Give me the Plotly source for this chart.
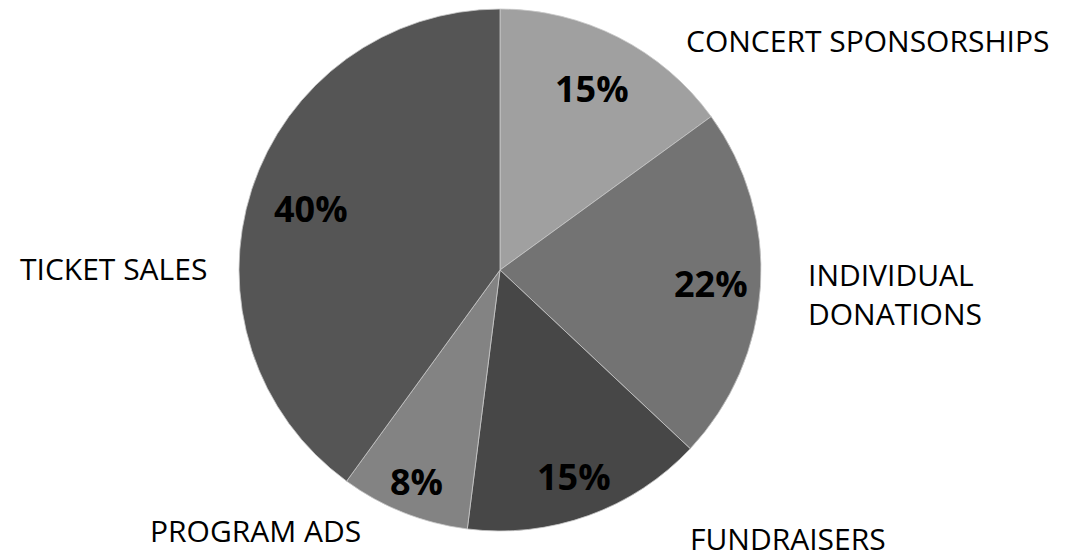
import math
import plotly.graph_objects as go

categories = ["CONCERT SPONSORSHIPS", "INDIVIDUAL DONATIONS", "FUNDRAISERS", "PROGRAM ADS", "TICKET SALES"]
values = [15, 22, 15, 8, 40]
colors = ["#a0a0a0", "#737373", "#474747", "#838383", "#555555"]
# radial position (fraction of radius) of each percent label
pct_radius = [0.78, 0.81, 0.84, 0.87, 0.76]
# outer label text and pixel anchor (x, y, xanchor)
outer_labels = [
    ("CONCERT SPONSORSHIPS", 685, 40, "left"),
    ("INDIVIDUAL<br>DONATIONS", 807, 294, "left"),
    ("FUNDRAISERS", 689, 538, "left"),
    ("PROGRAM ADS", 149, 530, "left"),
    ("TICKET SALES", 19, 268, "left"),
]

W, H = 1065, 559
CX, CY, R = 500, 270, 261

fig = go.Figure(go.Pie(
    labels=categories,
    values=values,
    sort=False,
    direction="clockwise",
    rotation=0,
    marker=dict(colors=colors, line=dict(color="#c8c8c8", width=0.8)),
    textinfo="none",
    hoverinfo="label+percent",
    showlegend=False,
    domain=dict(x=[(CX - R) / W, (CX + R) / W], y=[1 - (CY + R) / H, 1 - (CY - R) / H]),
))

total = sum(values)
cum = 0
annotations = []
for v, fr in zip(values, pct_radius):
    mid = (cum + v / 2) / total * 2 * math.pi
    cum += v
    px = CX + fr * R * math.sin(mid)
    py = CY - fr * R * math.cos(mid)
    annotations.append(dict(
        x=px / W, y=1 - py / H, xref="paper", yref="paper",
        text=f"<b>{round(v / total * 100)}%</b>", showarrow=False,
        font=dict(family="Open Sans", size=36, color="#000000"),
        xanchor="center", yanchor="middle",
    ))

for text, x, y, xa in outer_labels:
    annotations.append(dict(
        x=x / W, y=1 - y / H, xref="paper", yref="paper",
        text=text, showarrow=False, align="left", borderpad=0,
        font=dict(family="Open Sans", size=30, color="#000000"),
        xanchor=xa, yanchor="middle",
    ))

fig.update_layout(
    width=W, height=H,
    margin=dict(l=0, r=0, t=0, b=0),
    paper_bgcolor="white",
    plot_bgcolor="white",
    annotations=annotations,
)

fig.write_html(
    "out.html",
    config={"displayModeBar": False},
    post_script="document.body.style.margin='0';document.body.style.overflow='hidden';",
)
